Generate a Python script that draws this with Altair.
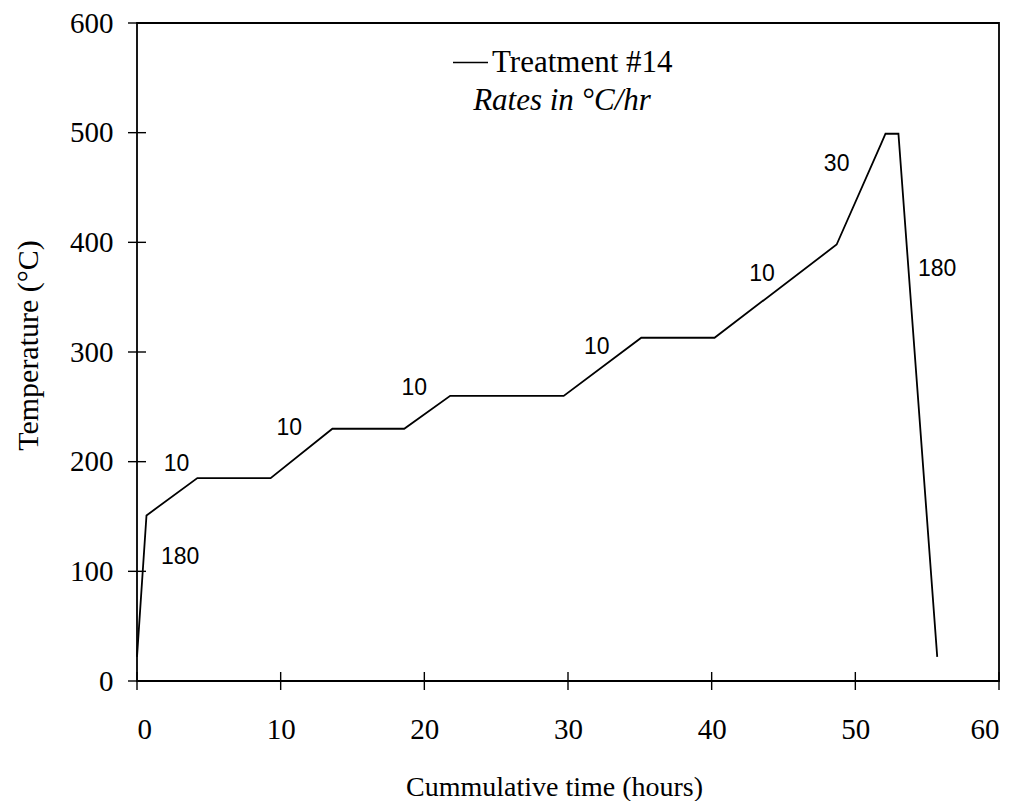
import altair as alt
import pandas as pd

# Temperature programme
time_h = [0, 0.66, 4.2, 9.3, 13.6, 18.6, 21.8, 29.7, 35.1, 40.2, 48.7, 51.8, 52.1, 53.0, 55.7]
temp_c = [22, 151, 185, 185, 230, 230, 260, 260, 313, 313, 398, 490, 499, 499, 22]
series_name = "Treatment #14"

# Rate annotations
rate_text = ["180", "10", "10", "10", "10", "10", "30", "180"]
rate_t = [3.0, 2.75, 10.6, 19.3, 32.0, 43.5, 48.7, 55.7]
rate_T = [113, 198, 231, 267, 305, 371, 471, 376]

x_ticks = [0, 10, 20, 30, 40, 50, 60]
y_ticks = [0, 100, 200, 300, 400, 500, 600]

line_df = pd.DataFrame({"t": time_h, "T": temp_c, "series": series_name})
rate_df = pd.DataFrame({"t": rate_t, "T": rate_T, "label": rate_text})
xt_df = pd.DataFrame({"xt": x_ticks})
yt_df = pd.DataFrame({"yt": y_ticks})

SERIF = "Liberation Serif"
SANS = "Liberation Sans"

xscale = alt.Scale(domain=[0, 60], nice=False)
yscale = alt.Scale(domain=[0, 600], nice=False)

xaxis = alt.Axis(values=x_ticks, ticks=False, grid=False, domain=False,
                 labelFont=SERIF, labelFontSize=29, labelColor="black",
                 labelPadding=34, title="Cummulative time (hours)",
                 titleFont=SERIF, titleFontSize=28, titleFontWeight="normal",
                 titleColor="black", titleX=417, titleY=114,
                 titleBaseline="alphabetic", titleAlign="center")
yaxis = alt.Axis(values=y_ticks, ticks=False, grid=False, domain=False,
                 labelFont=SERIF, labelFontSize=29, labelColor="black",
                 labelPadding=24, title="Temperature (°C)",
                 titleFont=SERIF, titleFontSize=30, titleFontWeight="normal",
                 titleColor="black", titleX=-109, titleY=322, titleBaseline="middle",
                 titleAlign="center")

line = alt.Chart(line_df).mark_line(strokeWidth=1.8, color="black").encode(
    x=alt.X("t:Q", scale=xscale, axis=xaxis),
    y=alt.Y("T:Q", scale=yscale, axis=yaxis),
    color=alt.Color("series:N", scale=alt.Scale(range=["black"]),
                    legend=alt.Legend(
                        orient="none", legendX=315, legendY=21,
                        title="Rates in °C/hr", titleOrient="bottom",
                        titleFont=SERIF, titleFontSize=31, titleFontStyle="italic",
                        titleFontWeight="normal", titleColor="black",
                        titleAnchor="middle", titleAlign="center", titlePadding=8,
                        titleLimit=400,
                        labelFont=SERIF, labelFontSize=31, labelColor="black",
                        labelLimit=400,
                        symbolType="stroke", symbolSize=1225, symbolStrokeWidth=1.5,
                        symbolStrokeColor="black", labelOffset=3)),
)

xticks = alt.Chart(xt_df).mark_tick(orient="vertical", size=18, thickness=1.4,
                                     color="black", opacity=1).encode(
    x=alt.X("xt:Q", scale=xscale),
    y=alt.YDatum(0),
)
yticks = alt.Chart(yt_df).mark_tick(orient="horizontal", size=18, thickness=1.4,
                                     color="black", opacity=1).encode(
    y=alt.Y("yt:Q", scale=yscale),
    x=alt.XDatum(0),
)

rates = alt.Chart(rate_df).mark_text(font=SANS, fontSize=23, color="black").encode(
    x=alt.X("t:Q", scale=xscale),
    y=alt.Y("T:Q", scale=yscale),
    text="label:N",
)

chart = alt.layer(line, xticks, yticks, rates).properties(
    width=862, height=658,
    autosize=alt.AutoSizeParams(type="none"),
    padding={"left": 129, "top": 15, "right": 20, "bottom": 120},
).configure_view(stroke="black", strokeWidth=1.8)

chart.save("out.html", embed_options={"renderer": "svg", "actions": False})
